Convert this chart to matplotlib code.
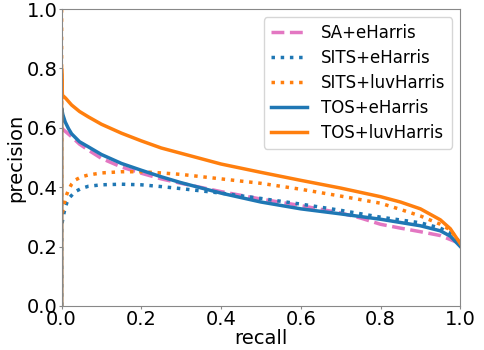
import numpy as np
import matplotlib.pyplot as plt

# recall / precision values
rec_sa = [0.0, 0.005, 0.012, 0.025, 0.045, 0.067, 0.1, 0.15, 0.2, 0.25, 0.3, 0.4, 0.5, 0.6, 0.7, 0.75, 0.8, 0.85, 0.9, 0.95, 1.0]
prec_sa = [0.60, 0.593, 0.585, 0.57, 0.545, 0.525, 0.497, 0.468, 0.447, 0.428, 0.413, 0.385, 0.36, 0.338, 0.313, 0.296, 0.275, 0.262, 0.25, 0.237, 0.21]

rec_sits_e = [0.0, 0.0, 0.004, 0.008, 0.013, 0.02, 0.034, 0.05, 0.067, 0.1, 0.15, 0.2, 0.25, 0.3, 0.4, 0.5, 0.6, 0.7, 0.8, 0.9, 0.95, 0.975, 1.0]
prec_sits_e = [0.0, 0.27, 0.3, 0.325, 0.347, 0.365, 0.385, 0.396, 0.403, 0.408, 0.41, 0.408, 0.402, 0.395, 0.38, 0.362, 0.343, 0.322, 0.299, 0.28, 0.262, 0.245, 0.215]

rec_sits_l = [0.0, 0.0, 0.005, 0.01, 0.017, 0.025, 0.034, 0.05, 0.067, 0.1, 0.15, 0.2, 0.25, 0.3, 0.4, 0.5, 0.6, 0.7, 0.8, 0.85, 0.9, 0.95, 0.975, 1.0]
prec_sits_l = [1.0, 0.30, 0.334, 0.365, 0.39, 0.41, 0.424, 0.435, 0.441, 0.448, 0.452, 0.452, 0.448, 0.443, 0.428, 0.413, 0.393, 0.37, 0.346, 0.325, 0.303, 0.275, 0.256, 0.21]

rec_tos_e = [0.0, 0.0, 0.003, 0.009, 0.017, 0.025, 0.045, 0.067, 0.1, 0.15, 0.2, 0.25, 0.3, 0.4, 0.5, 0.6, 0.7, 0.8, 0.9, 0.95, 0.975, 1.0]
prec_tos_e = [0.0, 0.667, 0.645, 0.62, 0.598, 0.58, 0.553, 0.536, 0.51, 0.48, 0.457, 0.435, 0.415, 0.38, 0.35, 0.327, 0.31, 0.292, 0.27, 0.253, 0.235, 0.2]

rec_tos_l = [0.0, 0.0, 0.002, 0.01, 0.025, 0.045, 0.067, 0.1, 0.15, 0.2, 0.25, 0.3, 0.4, 0.5, 0.6, 0.7, 0.8, 0.85, 0.9, 0.95, 0.975, 1.0]
prec_tos_l = [0.0, 0.80, 0.71, 0.70, 0.677, 0.655, 0.637, 0.612, 0.582, 0.556, 0.532, 0.514, 0.478, 0.45, 0.423, 0.397, 0.368, 0.35, 0.327, 0.29, 0.26, 0.21]

fig = plt.figure(figsize=(4.85, 3.5), dpi=100)
ax = fig.add_axes([0.127, 0.126, 0.822, 0.848])

ax.plot(rec_sa, prec_sa, '--', color='#e377c2', lw=2.5, label='SA+eHarris')
ax.plot(rec_sits_e, prec_sits_e, ':', color='#1f77b4', lw=2.5, label='SITS+eHarris')
ax.plot(rec_sits_l, prec_sits_l, ':', color='#ff7f0e', lw=2.5, label='SITS+luvHarris')
ax.plot(rec_tos_e, prec_tos_e, '-', color='#1f77b4', lw=2.5, label='TOS+eHarris')
ax.plot(rec_tos_l, prec_tos_l, '-', color='#ff7f0e', lw=2.5, label='TOS+luvHarris')

ax.set_xlim(0, 1)
ax.set_ylim(0, 1)
ax.set_xticks([0, 0.2, 0.4, 0.6, 0.8, 1.0])
ax.set_yticks([0, 0.2, 0.4, 0.6, 0.8, 1.0])
ax.tick_params(labelsize=14, color='#888888', length=2, pad=1)
for s in ax.spines.values():
    s.set_color('#888888')
ax.set_xlabel('recall', fontsize=14, labelpad=0)
ax.set_ylabel('precision', fontsize=14, labelpad=1)
ax.legend(loc='upper right', fontsize=12, handlelength=2.2, labelspacing=0.42)

fig.savefig('out.png')
